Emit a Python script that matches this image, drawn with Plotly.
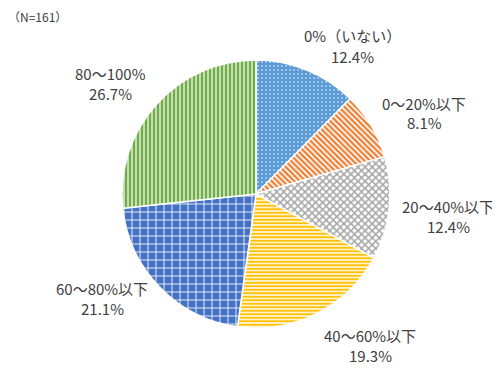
import plotly.graph_objects as go

labels = ["0%（いない）", "0～20%以下", "20～40%以下", "40～60%以下", "60～80%以下", "80～100%"]
values = [12.4, 8.1, 12.4, 19.3, 21.1, 26.7]
colors = ["#5B9BD5", "#ED7D31", "#A5A5A5", "#FFC000", "#4472C4", "#70AD47"]
n_label = "（N=161）"

shapes = [".", "\\", "x", "-", "+", "|"]
bg = ["#5B9BD5", "#FFFFFF", "#FFFFFF", "#FFFFFF", "#4472C4", "#FFFFFF"]
fg = ["#FFFFFF", "#ED7D31", "#A5A5A5", "#FFC000", "#FFFFFF", "#70AD47"]
sizes = [4, 4, 5, 3.5, 8, 4]
solid = [0.12, 0.55, 0.5, 0.6, 0.2, 0.7]

W, H = 500, 371
OFF = 8  # default body margin of the page
cx, cy, r = 256 - OFF, 194 - OFF, 134

fig = go.Figure(go.Pie(
    labels=labels, values=values, sort=False, direction="clockwise", rotation=0,
    textinfo="none", hoverinfo="label+percent",
    marker=dict(colors=colors, line=dict(color="white", width=1.5),
                pattern=dict(shape=shapes, bgcolor=bg, fgcolor=fg, size=sizes,
                             solidity=solid, fillmode="replace")),
    domain=dict(x=[(cx - r) / W, (cx + r) / W], y=[(H - cy - r) / H, (H - cy + r) / H]),
    showlegend=False,
))

font = dict(family="Noto Sans CJK JP", size=15, color="#404040")
pos = [(352, 46), (424, 113), (448, 216), (370, 345), (102, 298), (110, 83)]
for lab, v, (x, y) in zip(labels, values, pos):
    for txt, dy in ((lab, -10), (f"{v}%", 10)):
        fig.add_annotation(x=(x - OFF) / W, y=1 - (y + dy - OFF) / H, xref="paper", yref="paper",
                           text=txt, showarrow=False, font=font,
                           xanchor="center", yanchor="middle")
fig.add_annotation(x=(37 - OFF) / W, y=1 - (16 - OFF) / H, xref="paper", yref="paper", text=n_label,
                   showarrow=False, font=dict(family="Noto Sans CJK JP", size=12, color="#404040"),
                   xanchor="center", yanchor="middle")

fig.update_layout(width=W, height=H, margin=dict(l=0, r=0, t=0, b=0),
                  paper_bgcolor="white", plot_bgcolor="white")
fig.write_html("out.html")
